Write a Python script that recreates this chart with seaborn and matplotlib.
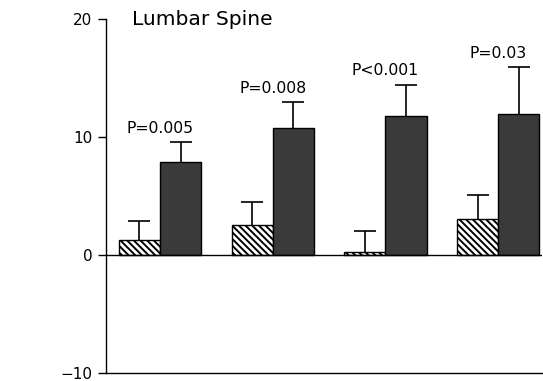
import matplotlib
matplotlib.use("Agg")
import matplotlib.pyplot as plt
import pandas as pd
import seaborn as sns

# data
groups = ["G1", "G2", "G3", "G4"]
treatments = ["Placebo", "Treatment"]
placebo_vals = [1.3, 2.5, 0.2, 3.0]
placebo_err = [1.55, 1.95, 1.85, 2.1]
treat_vals = [7.9, 10.75, 11.75, 11.95]
treat_err = [1.65, 2.2, 2.7, 3.95]
p_labels = ["P=0.005", "P=0.008", "P<0.001", "P=0.03"]

sns.set_style("ticks")
plt.rcParams['font.family'] = ['DejaVu Sans']
plt.rcParams['hatch.linewidth'] = 1.4
plt.rcParams['text.color'] = 'black'
plt.rcParams['ytick.labelcolor'] = 'black'

df = pd.DataFrame({
    "group": groups * 2,
    "treatment": [treatments[0]] * 4 + [treatments[1]] * 4,
    "value": placebo_vals + treat_vals,
})

fig = plt.figure(figsize=(5.43, 3.81), dpi=100)
ax = fig.add_axes([0.1943, 0.0218, 0.804, 0.928])

sns.barplot(data=df, x="group", y="value", hue="treatment", order=groups,
            hue_order=treatments, palette={"Placebo": "white", "Treatment": "#3a3a3a"},
            width=0.73, edgecolor="black", linewidth=1.0, errorbar=None,
            legend=False, ax=ax, zorder=2)

bar_conts = list(ax.containers)
errs = [placebo_err, treat_err]
tops = []
for i, cont in enumerate(bar_conts):
    xs, ys = [], []
    for bar in cont.patches:
        if i == 0:
            bar.set_hatch("\\" * 5)
        xs.append(bar.get_x() + bar.get_width() / 2)
        ys.append(bar.get_height())
    eb = ax.errorbar(xs, ys, yerr=[[0] * len(ys), errs[i]], fmt="none",
                     ecolor="black", elinewidth=1.2, capsize=7.8, capthick=1.2, zorder=1)
    # only the upper cap is drawn in the reference
    eb[1][0].set_visible(False)
    tops.append([y + e for y, e in zip(ys, errs[i])])

for j, lab in enumerate(p_labels):
    ax.text(j, tops[1][j] + 1.2, lab, ha="center", va="center", fontsize=11.3)

ax.axhline(0, color="black", lw=1.0, zorder=3)
ax.text(0.06, 1.0, "Lumbar Spine", transform=ax.transAxes, ha="left",
        va="center", fontsize=14.6)

ax.set_xlim(-0.484, 3.39)
ax.set_ylim(-10, 20)
ax.set_yticks([-10, 0, 10, 20])
ax.set_xticks([])
ax.set_xlabel("")
ax.set_ylabel("")
ax.tick_params(axis="y", length=6, width=1.0, labelsize=11, color="black")
sns.despine(ax=ax)
for s in ["left", "bottom"]:
    ax.spines[s].set_color("black")
    ax.spines[s].set_linewidth(1.0)

fig.savefig("out.png", dpi=100)
